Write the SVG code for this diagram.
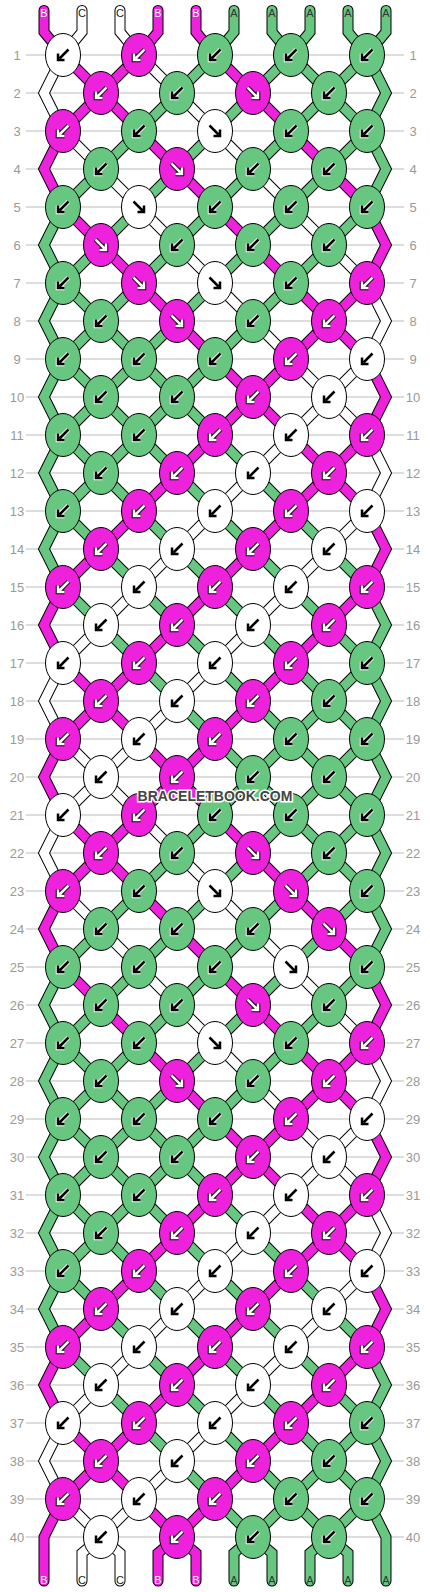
<svg xmlns="http://www.w3.org/2000/svg" xmlns:xlink="http://www.w3.org/1999/xlink" width="430" height="1592" viewBox="0 0 430 1592">
<style>
.o{fill:none;stroke:#000;stroke-width:11;stroke-linejoin:miter;stroke-linecap:round}
.f{fill:none;stroke-width:9;stroke-linejoin:miter;stroke-linecap:round}
.cm{stroke:#ee22dd}.cw{stroke:#fff}.cg{stroke:#67c680}
.num{font-family:"Liberation Sans",Arial,sans-serif;font-size:13px;fill:#999;text-anchor:middle}
.lab{font-family:"Liberation Sans",Arial,sans-serif;font-size:11px;text-anchor:middle}
.lb{fill:#fff}.lc{fill:#222}.la{fill:#333}
.wm{font-family:"Liberation Sans",Arial,sans-serif;font-size:14px;font-weight:bold;fill:#444;stroke:#fff;stroke-width:3;paint-order:stroke;text-anchor:middle}
</style>
<defs>
<path id="pl" d="M5.5,-5.5L-3.5,3.5M-5,-1.5V5H1.5" fill="none"/>
<path id="pr" d="M-5.5,-5.5L3.5,3.5M5,-1.5V5H-1.5" fill="none"/>
<g id="Wl"><ellipse rx="17.5" ry="21.5" fill="#fff" stroke="#000"/><use href="#pl" stroke="#000" stroke-width="2.5"/></g>
<g id="Wr"><ellipse rx="17.5" ry="21.5" fill="#fff" stroke="#000"/><use href="#pr" stroke="#000" stroke-width="2.5"/></g>
<g id="Ml"><ellipse rx="17.5" ry="21.5" fill="#ee22dd" stroke="#000"/><use href="#pl" stroke="#000" stroke-width="4.5"/><use href="#pl" stroke="#fff" stroke-width="2.5"/></g>
<g id="Mr"><ellipse rx="17.5" ry="21.5" fill="#ee22dd" stroke="#000"/><use href="#pr" stroke="#000" stroke-width="4.5"/><use href="#pr" stroke="#fff" stroke-width="2.5"/></g>
<g id="Gl"><ellipse rx="17.5" ry="21.5" fill="#67c680" stroke="#000"/><use href="#pl" stroke="#fff" stroke-width="4.5"/><use href="#pl" stroke="#000" stroke-width="2.5"/></g>
</defs>
<rect width="430" height="1592" fill="#fff"/>
<g id="rowlines">
<path fill="none" stroke="#bbb" stroke-width="1" d="M26,55H404M26,93H404M26,131H404M26,169H404M26,207H404M26,245H404M26,283H404M26,321H404M26,359H404M26,397H404M26,435H404M26,473H404M26,511H404M26,549H404M26,587H404M26,625H404M26,663H404M26,701H404M26,739H404M26,777H404M26,815H404M26,853H404M26,891H404M26,929H404M26,967H404M26,1005H404M26,1043H404M26,1081H404M26,1119H404M26,1157H404M26,1195H404M26,1233H404M26,1271H404M26,1309H404M26,1347H404M26,1385H404M26,1423H404M26,1461H404M26,1499H404M26,1537H404"/>
</g>
<g id="rownumbers">
<text class="num" x="17" y="59.5">1</text><text class="num" x="413" y="59.5">1</text>
<text class="num" x="17" y="97.5">2</text><text class="num" x="413" y="97.5">2</text>
<text class="num" x="17" y="135.5">3</text><text class="num" x="413" y="135.5">3</text>
<text class="num" x="17" y="173.5">4</text><text class="num" x="413" y="173.5">4</text>
<text class="num" x="17" y="211.5">5</text><text class="num" x="413" y="211.5">5</text>
<text class="num" x="17" y="249.5">6</text><text class="num" x="413" y="249.5">6</text>
<text class="num" x="17" y="287.5">7</text><text class="num" x="413" y="287.5">7</text>
<text class="num" x="17" y="325.5">8</text><text class="num" x="413" y="325.5">8</text>
<text class="num" x="17" y="363.5">9</text><text class="num" x="413" y="363.5">9</text>
<text class="num" x="17" y="401.5">10</text><text class="num" x="413" y="401.5">10</text>
<text class="num" x="17" y="439.5">11</text><text class="num" x="413" y="439.5">11</text>
<text class="num" x="17" y="477.5">12</text><text class="num" x="413" y="477.5">12</text>
<text class="num" x="17" y="515.5">13</text><text class="num" x="413" y="515.5">13</text>
<text class="num" x="17" y="553.5">14</text><text class="num" x="413" y="553.5">14</text>
<text class="num" x="17" y="591.5">15</text><text class="num" x="413" y="591.5">15</text>
<text class="num" x="17" y="629.5">16</text><text class="num" x="413" y="629.5">16</text>
<text class="num" x="17" y="667.5">17</text><text class="num" x="413" y="667.5">17</text>
<text class="num" x="17" y="705.5">18</text><text class="num" x="413" y="705.5">18</text>
<text class="num" x="17" y="743.5">19</text><text class="num" x="413" y="743.5">19</text>
<text class="num" x="17" y="781.5">20</text><text class="num" x="413" y="781.5">20</text>
<text class="num" x="17" y="819.5">21</text><text class="num" x="413" y="819.5">21</text>
<text class="num" x="17" y="857.5">22</text><text class="num" x="413" y="857.5">22</text>
<text class="num" x="17" y="895.5">23</text><text class="num" x="413" y="895.5">23</text>
<text class="num" x="17" y="933.5">24</text><text class="num" x="413" y="933.5">24</text>
<text class="num" x="17" y="971.5">25</text><text class="num" x="413" y="971.5">25</text>
<text class="num" x="17" y="1009.5">26</text><text class="num" x="413" y="1009.5">26</text>
<text class="num" x="17" y="1047.5">27</text><text class="num" x="413" y="1047.5">27</text>
<text class="num" x="17" y="1085.5">28</text><text class="num" x="413" y="1085.5">28</text>
<text class="num" x="17" y="1123.5">29</text><text class="num" x="413" y="1123.5">29</text>
<text class="num" x="17" y="1161.5">30</text><text class="num" x="413" y="1161.5">30</text>
<text class="num" x="17" y="1199.5">31</text><text class="num" x="413" y="1199.5">31</text>
<text class="num" x="17" y="1237.5">32</text><text class="num" x="413" y="1237.5">32</text>
<text class="num" x="17" y="1275.5">33</text><text class="num" x="413" y="1275.5">33</text>
<text class="num" x="17" y="1313.5">34</text><text class="num" x="413" y="1313.5">34</text>
<text class="num" x="17" y="1351.5">35</text><text class="num" x="413" y="1351.5">35</text>
<text class="num" x="17" y="1389.5">36</text><text class="num" x="413" y="1389.5">36</text>
<text class="num" x="17" y="1427.5">37</text><text class="num" x="413" y="1427.5">37</text>
<text class="num" x="17" y="1465.5">38</text><text class="num" x="413" y="1465.5">38</text>
<text class="num" x="17" y="1503.5">39</text><text class="num" x="413" y="1503.5">39</text>
<text class="num" x="17" y="1541.5">40</text><text class="num" x="413" y="1541.5">40</text>
</g>
<g id="connectors">
<polyline class="o" points="44,10.5 44,32 63,55 367,359 386,397 367,435 63,739 44,777 63,815 367,1119 386,1157 367,1195 63,1499 44,1537 44,1581"/>
<polyline class="f cm" points="44,10.5 44,32 63,55 367,359 386,397 367,435 63,739 44,777 63,815 367,1119 386,1157 367,1195 63,1499 44,1537 44,1581"/>
<polyline class="o" points="82,10.5 82,32 63,55 44,93 63,131 367,435 386,473 367,511 63,815 44,853 63,891 367,1195 386,1233 367,1271 101,1537 82,1553 82,1581"/>
<polyline class="f cw" points="82,10.5 82,32 63,55 44,93 63,131 367,435 386,473 367,511 63,815 44,853 63,891 367,1195 386,1233 367,1271 101,1537 82,1553 82,1581"/>
<polyline class="o" points="120,10.5 120,32 139,55 367,283 386,321 367,359 63,663 44,701 63,739 367,1043 386,1081 367,1119 63,1423 44,1461 63,1499 101,1537 120,1553 120,1581"/>
<polyline class="f cw" points="120,10.5 120,32 139,55 367,283 386,321 367,359 63,663 44,701 63,739 367,1043 386,1081 367,1119 63,1423 44,1461 63,1499 101,1537 120,1553 120,1581"/>
<polyline class="o" points="158,10.5 158,32 139,55 63,131 44,169 63,207 367,511 386,549 367,587 63,891 44,929 63,967 367,1271 386,1309 367,1347 177,1537 158,1553 158,1581"/>
<polyline class="f cm" points="158,10.5 158,32 139,55 63,131 44,169 63,207 367,511 386,549 367,587 63,891 44,929 63,967 367,1271 386,1309 367,1347 177,1537 158,1553 158,1581"/>
<polyline class="o" points="196,10.5 196,32 215,55 367,207 386,245 367,283 63,587 44,625 63,663 367,967 386,1005 367,1043 63,1347 44,1385 63,1423 177,1537 196,1553 196,1581"/>
<polyline class="f cm" points="196,10.5 196,32 215,55 367,207 386,245 367,283 63,587 44,625 63,663 367,967 386,1005 367,1043 63,1347 44,1385 63,1423 177,1537 196,1553 196,1581"/>
<polyline class="o" points="234,10.5 234,32 215,55 63,207 44,245 63,283 367,587 386,625 367,663 63,967 44,1005 63,1043 367,1347 386,1385 367,1423 253,1537 234,1553 234,1581"/>
<polyline class="f cg" points="234,10.5 234,32 215,55 63,207 44,245 63,283 367,587 386,625 367,663 63,967 44,1005 63,1043 367,1347 386,1385 367,1423 253,1537 234,1553 234,1581"/>
<polyline class="o" points="272,10.5 272,32 291,55 367,131 386,169 367,207 63,511 44,549 63,587 367,891 386,929 367,967 63,1271 44,1309 63,1347 253,1537 272,1553 272,1581"/>
<polyline class="f cg" points="272,10.5 272,32 291,55 367,131 386,169 367,207 63,511 44,549 63,587 367,891 386,929 367,967 63,1271 44,1309 63,1347 253,1537 272,1553 272,1581"/>
<polyline class="o" points="310,10.5 310,32 291,55 63,283 44,321 63,359 367,663 386,701 367,739 63,1043 44,1081 63,1119 367,1423 386,1461 367,1499 329,1537 310,1553 310,1581"/>
<polyline class="f cg" points="310,10.5 310,32 291,55 63,283 44,321 63,359 367,663 386,701 367,739 63,1043 44,1081 63,1119 367,1423 386,1461 367,1499 329,1537 310,1553 310,1581"/>
<polyline class="o" points="348,10.5 348,32 367,55 386,93 367,131 63,435 44,473 63,511 367,815 386,853 367,891 63,1195 44,1233 63,1271 329,1537 348,1553 348,1581"/>
<polyline class="f cg" points="348,10.5 348,32 367,55 386,93 367,131 63,435 44,473 63,511 367,815 386,853 367,891 63,1195 44,1233 63,1271 329,1537 348,1553 348,1581"/>
<polyline class="o" points="386,10.5 386,32 367,55 63,359 44,397 63,435 367,739 386,777 367,815 63,1119 44,1157 63,1195 367,1499 386,1537 386,1581"/>
<polyline class="f cg" points="386,10.5 386,32 367,55 63,359 44,397 63,435 367,739 386,777 367,815 63,1119 44,1157 63,1195 367,1499 386,1537 386,1581"/>
</g>
<g id="stringlabels">
<text class="lab lb" x="44" y="17">B</text><text class="lab lc" x="82" y="17">C</text><text class="lab lc" x="120" y="17">C</text><text class="lab lb" x="158" y="17">B</text><text class="lab lb" x="196" y="17">B</text><text class="lab la" x="234" y="17">A</text><text class="lab la" x="272" y="17">A</text><text class="lab la" x="310" y="17">A</text><text class="lab la" x="348" y="17">A</text><text class="lab la" x="386" y="17">A</text>
<text class="lab lb" x="44" y="1584">B</text><text class="lab lc" x="82" y="1584">C</text><text class="lab lc" x="120" y="1584">C</text><text class="lab lb" x="158" y="1584">B</text><text class="lab lb" x="196" y="1584">B</text><text class="lab la" x="234" y="1584">A</text><text class="lab la" x="272" y="1584">A</text><text class="lab la" x="310" y="1584">A</text><text class="lab la" x="348" y="1584">A</text><text class="lab la" x="386" y="1584">A</text>
</g>
<g id="knots">
<g id="k1-1"><use href="#Wl" x="63" y="55"/></g><g id="k1-2"><use href="#Ml" x="139" y="55"/></g><g id="k1-3"><use href="#Gl" x="215" y="55"/></g><g id="k1-4"><use href="#Gl" x="291" y="55"/></g><g id="k1-5"><use href="#Gl" x="367" y="55"/></g>
<g id="k2-1"><use href="#Ml" x="101" y="93"/></g><g id="k2-2"><use href="#Gl" x="177" y="93"/></g><g id="k2-3"><use href="#Mr" x="253" y="93"/></g><g id="k2-4"><use href="#Gl" x="329" y="93"/></g>
<g id="k3-1"><use href="#Ml" x="63" y="131"/></g><g id="k3-2"><use href="#Gl" x="139" y="131"/></g><g id="k3-3"><use href="#Wr" x="215" y="131"/></g><g id="k3-4"><use href="#Gl" x="291" y="131"/></g><g id="k3-5"><use href="#Gl" x="367" y="131"/></g>
<g id="k4-1"><use href="#Gl" x="101" y="169"/></g><g id="k4-2"><use href="#Mr" x="177" y="169"/></g><g id="k4-3"><use href="#Gl" x="253" y="169"/></g><g id="k4-4"><use href="#Gl" x="329" y="169"/></g>
<g id="k5-1"><use href="#Gl" x="63" y="207"/></g><g id="k5-2"><use href="#Wr" x="139" y="207"/></g><g id="k5-3"><use href="#Gl" x="215" y="207"/></g><g id="k5-4"><use href="#Gl" x="291" y="207"/></g><g id="k5-5"><use href="#Gl" x="367" y="207"/></g>
<g id="k6-1"><use href="#Mr" x="101" y="245"/></g><g id="k6-2"><use href="#Gl" x="177" y="245"/></g><g id="k6-3"><use href="#Gl" x="253" y="245"/></g><g id="k6-4"><use href="#Gl" x="329" y="245"/></g>
<g id="k7-1"><use href="#Gl" x="63" y="283"/></g><g id="k7-2"><use href="#Mr" x="139" y="283"/></g><g id="k7-3"><use href="#Wr" x="215" y="283"/></g><g id="k7-4"><use href="#Gl" x="291" y="283"/></g><g id="k7-5"><use href="#Ml" x="367" y="283"/></g>
<g id="k8-1"><use href="#Gl" x="101" y="321"/></g><g id="k8-2"><use href="#Mr" x="177" y="321"/></g><g id="k8-3"><use href="#Gl" x="253" y="321"/></g><g id="k8-4"><use href="#Ml" x="329" y="321"/></g>
<g id="k9-1"><use href="#Gl" x="63" y="359"/></g><g id="k9-2"><use href="#Gl" x="139" y="359"/></g><g id="k9-3"><use href="#Gl" x="215" y="359"/></g><g id="k9-4"><use href="#Ml" x="291" y="359"/></g><g id="k9-5"><use href="#Wl" x="367" y="359"/></g>
<g id="k10-1"><use href="#Gl" x="101" y="397"/></g><g id="k10-2"><use href="#Gl" x="177" y="397"/></g><g id="k10-3"><use href="#Ml" x="253" y="397"/></g><g id="k10-4"><use href="#Wl" x="329" y="397"/></g>
<g id="k11-1"><use href="#Gl" x="63" y="435"/></g><g id="k11-2"><use href="#Gl" x="139" y="435"/></g><g id="k11-3"><use href="#Ml" x="215" y="435"/></g><g id="k11-4"><use href="#Wl" x="291" y="435"/></g><g id="k11-5"><use href="#Ml" x="367" y="435"/></g>
<g id="k12-1"><use href="#Gl" x="101" y="473"/></g><g id="k12-2"><use href="#Ml" x="177" y="473"/></g><g id="k12-3"><use href="#Wl" x="253" y="473"/></g><g id="k12-4"><use href="#Ml" x="329" y="473"/></g>
<g id="k13-1"><use href="#Gl" x="63" y="511"/></g><g id="k13-2"><use href="#Ml" x="139" y="511"/></g><g id="k13-3"><use href="#Wl" x="215" y="511"/></g><g id="k13-4"><use href="#Ml" x="291" y="511"/></g><g id="k13-5"><use href="#Wl" x="367" y="511"/></g>
<g id="k14-1"><use href="#Ml" x="101" y="549"/></g><g id="k14-2"><use href="#Wl" x="177" y="549"/></g><g id="k14-3"><use href="#Ml" x="253" y="549"/></g><g id="k14-4"><use href="#Wl" x="329" y="549"/></g>
<g id="k15-1"><use href="#Ml" x="63" y="587"/></g><g id="k15-2"><use href="#Wl" x="139" y="587"/></g><g id="k15-3"><use href="#Ml" x="215" y="587"/></g><g id="k15-4"><use href="#Wl" x="291" y="587"/></g><g id="k15-5"><use href="#Ml" x="367" y="587"/></g>
<g id="k16-1"><use href="#Wl" x="101" y="625"/></g><g id="k16-2"><use href="#Ml" x="177" y="625"/></g><g id="k16-3"><use href="#Wl" x="253" y="625"/></g><g id="k16-4"><use href="#Ml" x="329" y="625"/></g>
<g id="k17-1"><use href="#Wl" x="63" y="663"/></g><g id="k17-2"><use href="#Ml" x="139" y="663"/></g><g id="k17-3"><use href="#Wl" x="215" y="663"/></g><g id="k17-4"><use href="#Ml" x="291" y="663"/></g><g id="k17-5"><use href="#Gl" x="367" y="663"/></g>
<g id="k18-1"><use href="#Ml" x="101" y="701"/></g><g id="k18-2"><use href="#Wl" x="177" y="701"/></g><g id="k18-3"><use href="#Ml" x="253" y="701"/></g><g id="k18-4"><use href="#Gl" x="329" y="701"/></g>
<g id="k19-1"><use href="#Ml" x="63" y="739"/></g><g id="k19-2"><use href="#Wl" x="139" y="739"/></g><g id="k19-3"><use href="#Ml" x="215" y="739"/></g><g id="k19-4"><use href="#Gl" x="291" y="739"/></g><g id="k19-5"><use href="#Gl" x="367" y="739"/></g>
<g id="k20-1"><use href="#Wl" x="101" y="777"/></g><g id="k20-2"><use href="#Ml" x="177" y="777"/></g><g id="k20-3"><use href="#Gl" x="253" y="777"/></g><g id="k20-4"><use href="#Gl" x="329" y="777"/></g>
<g id="k21-1"><use href="#Wl" x="63" y="815"/></g><g id="k21-2"><use href="#Ml" x="139" y="815"/></g><g id="k21-3"><use href="#Gl" x="215" y="815"/></g><g id="k21-4"><use href="#Gl" x="291" y="815"/></g><g id="k21-5"><use href="#Gl" x="367" y="815"/></g>
<g id="k22-1"><use href="#Ml" x="101" y="853"/></g><g id="k22-2"><use href="#Gl" x="177" y="853"/></g><g id="k22-3"><use href="#Mr" x="253" y="853"/></g><g id="k22-4"><use href="#Gl" x="329" y="853"/></g>
<g id="k23-1"><use href="#Ml" x="63" y="891"/></g><g id="k23-2"><use href="#Gl" x="139" y="891"/></g><g id="k23-3"><use href="#Wr" x="215" y="891"/></g><g id="k23-4"><use href="#Mr" x="291" y="891"/></g><g id="k23-5"><use href="#Gl" x="367" y="891"/></g>
<g id="k24-1"><use href="#Gl" x="101" y="929"/></g><g id="k24-2"><use href="#Gl" x="177" y="929"/></g><g id="k24-3"><use href="#Gl" x="253" y="929"/></g><g id="k24-4"><use href="#Mr" x="329" y="929"/></g>
<g id="k25-1"><use href="#Gl" x="63" y="967"/></g><g id="k25-2"><use href="#Gl" x="139" y="967"/></g><g id="k25-3"><use href="#Gl" x="215" y="967"/></g><g id="k25-4"><use href="#Wr" x="291" y="967"/></g><g id="k25-5"><use href="#Gl" x="367" y="967"/></g>
<g id="k26-1"><use href="#Gl" x="101" y="1005"/></g><g id="k26-2"><use href="#Gl" x="177" y="1005"/></g><g id="k26-3"><use href="#Mr" x="253" y="1005"/></g><g id="k26-4"><use href="#Gl" x="329" y="1005"/></g>
<g id="k27-1"><use href="#Gl" x="63" y="1043"/></g><g id="k27-2"><use href="#Gl" x="139" y="1043"/></g><g id="k27-3"><use href="#Wr" x="215" y="1043"/></g><g id="k27-4"><use href="#Gl" x="291" y="1043"/></g><g id="k27-5"><use href="#Ml" x="367" y="1043"/></g>
<g id="k28-1"><use href="#Gl" x="101" y="1081"/></g><g id="k28-2"><use href="#Mr" x="177" y="1081"/></g><g id="k28-3"><use href="#Gl" x="253" y="1081"/></g><g id="k28-4"><use href="#Ml" x="329" y="1081"/></g>
<g id="k29-1"><use href="#Gl" x="63" y="1119"/></g><g id="k29-2"><use href="#Gl" x="139" y="1119"/></g><g id="k29-3"><use href="#Gl" x="215" y="1119"/></g><g id="k29-4"><use href="#Ml" x="291" y="1119"/></g><g id="k29-5"><use href="#Wl" x="367" y="1119"/></g>
<g id="k30-1"><use href="#Gl" x="101" y="1157"/></g><g id="k30-2"><use href="#Gl" x="177" y="1157"/></g><g id="k30-3"><use href="#Ml" x="253" y="1157"/></g><g id="k30-4"><use href="#Wl" x="329" y="1157"/></g>
<g id="k31-1"><use href="#Gl" x="63" y="1195"/></g><g id="k31-2"><use href="#Gl" x="139" y="1195"/></g><g id="k31-3"><use href="#Ml" x="215" y="1195"/></g><g id="k31-4"><use href="#Wl" x="291" y="1195"/></g><g id="k31-5"><use href="#Ml" x="367" y="1195"/></g>
<g id="k32-1"><use href="#Gl" x="101" y="1233"/></g><g id="k32-2"><use href="#Ml" x="177" y="1233"/></g><g id="k32-3"><use href="#Wl" x="253" y="1233"/></g><g id="k32-4"><use href="#Ml" x="329" y="1233"/></g>
<g id="k33-1"><use href="#Gl" x="63" y="1271"/></g><g id="k33-2"><use href="#Ml" x="139" y="1271"/></g><g id="k33-3"><use href="#Wl" x="215" y="1271"/></g><g id="k33-4"><use href="#Ml" x="291" y="1271"/></g><g id="k33-5"><use href="#Wl" x="367" y="1271"/></g>
<g id="k34-1"><use href="#Ml" x="101" y="1309"/></g><g id="k34-2"><use href="#Wl" x="177" y="1309"/></g><g id="k34-3"><use href="#Ml" x="253" y="1309"/></g><g id="k34-4"><use href="#Wl" x="329" y="1309"/></g>
<g id="k35-1"><use href="#Ml" x="63" y="1347"/></g><g id="k35-2"><use href="#Wl" x="139" y="1347"/></g><g id="k35-3"><use href="#Ml" x="215" y="1347"/></g><g id="k35-4"><use href="#Wl" x="291" y="1347"/></g><g id="k35-5"><use href="#Ml" x="367" y="1347"/></g>
<g id="k36-1"><use href="#Wl" x="101" y="1385"/></g><g id="k36-2"><use href="#Ml" x="177" y="1385"/></g><g id="k36-3"><use href="#Wl" x="253" y="1385"/></g><g id="k36-4"><use href="#Ml" x="329" y="1385"/></g>
<g id="k37-1"><use href="#Wl" x="63" y="1423"/></g><g id="k37-2"><use href="#Ml" x="139" y="1423"/></g><g id="k37-3"><use href="#Wl" x="215" y="1423"/></g><g id="k37-4"><use href="#Ml" x="291" y="1423"/></g><g id="k37-5"><use href="#Gl" x="367" y="1423"/></g>
<g id="k38-1"><use href="#Ml" x="101" y="1461"/></g><g id="k38-2"><use href="#Wl" x="177" y="1461"/></g><g id="k38-3"><use href="#Ml" x="253" y="1461"/></g><g id="k38-4"><use href="#Gl" x="329" y="1461"/></g>
<g id="k39-1"><use href="#Ml" x="63" y="1499"/></g><g id="k39-2"><use href="#Wl" x="139" y="1499"/></g><g id="k39-3"><use href="#Ml" x="215" y="1499"/></g><g id="k39-4"><use href="#Gl" x="291" y="1499"/></g><g id="k39-5"><use href="#Gl" x="367" y="1499"/></g>
<g id="k40-1"><use href="#Wl" x="101" y="1537"/></g><g id="k40-2"><use href="#Ml" x="177" y="1537"/></g><g id="k40-3"><use href="#Gl" x="253" y="1537"/></g><g id="k40-4"><use href="#Gl" x="329" y="1537"/></g>
</g>
<text class="wm" x="215" y="801">BRACELETBOOK.COM</text>
</svg>
